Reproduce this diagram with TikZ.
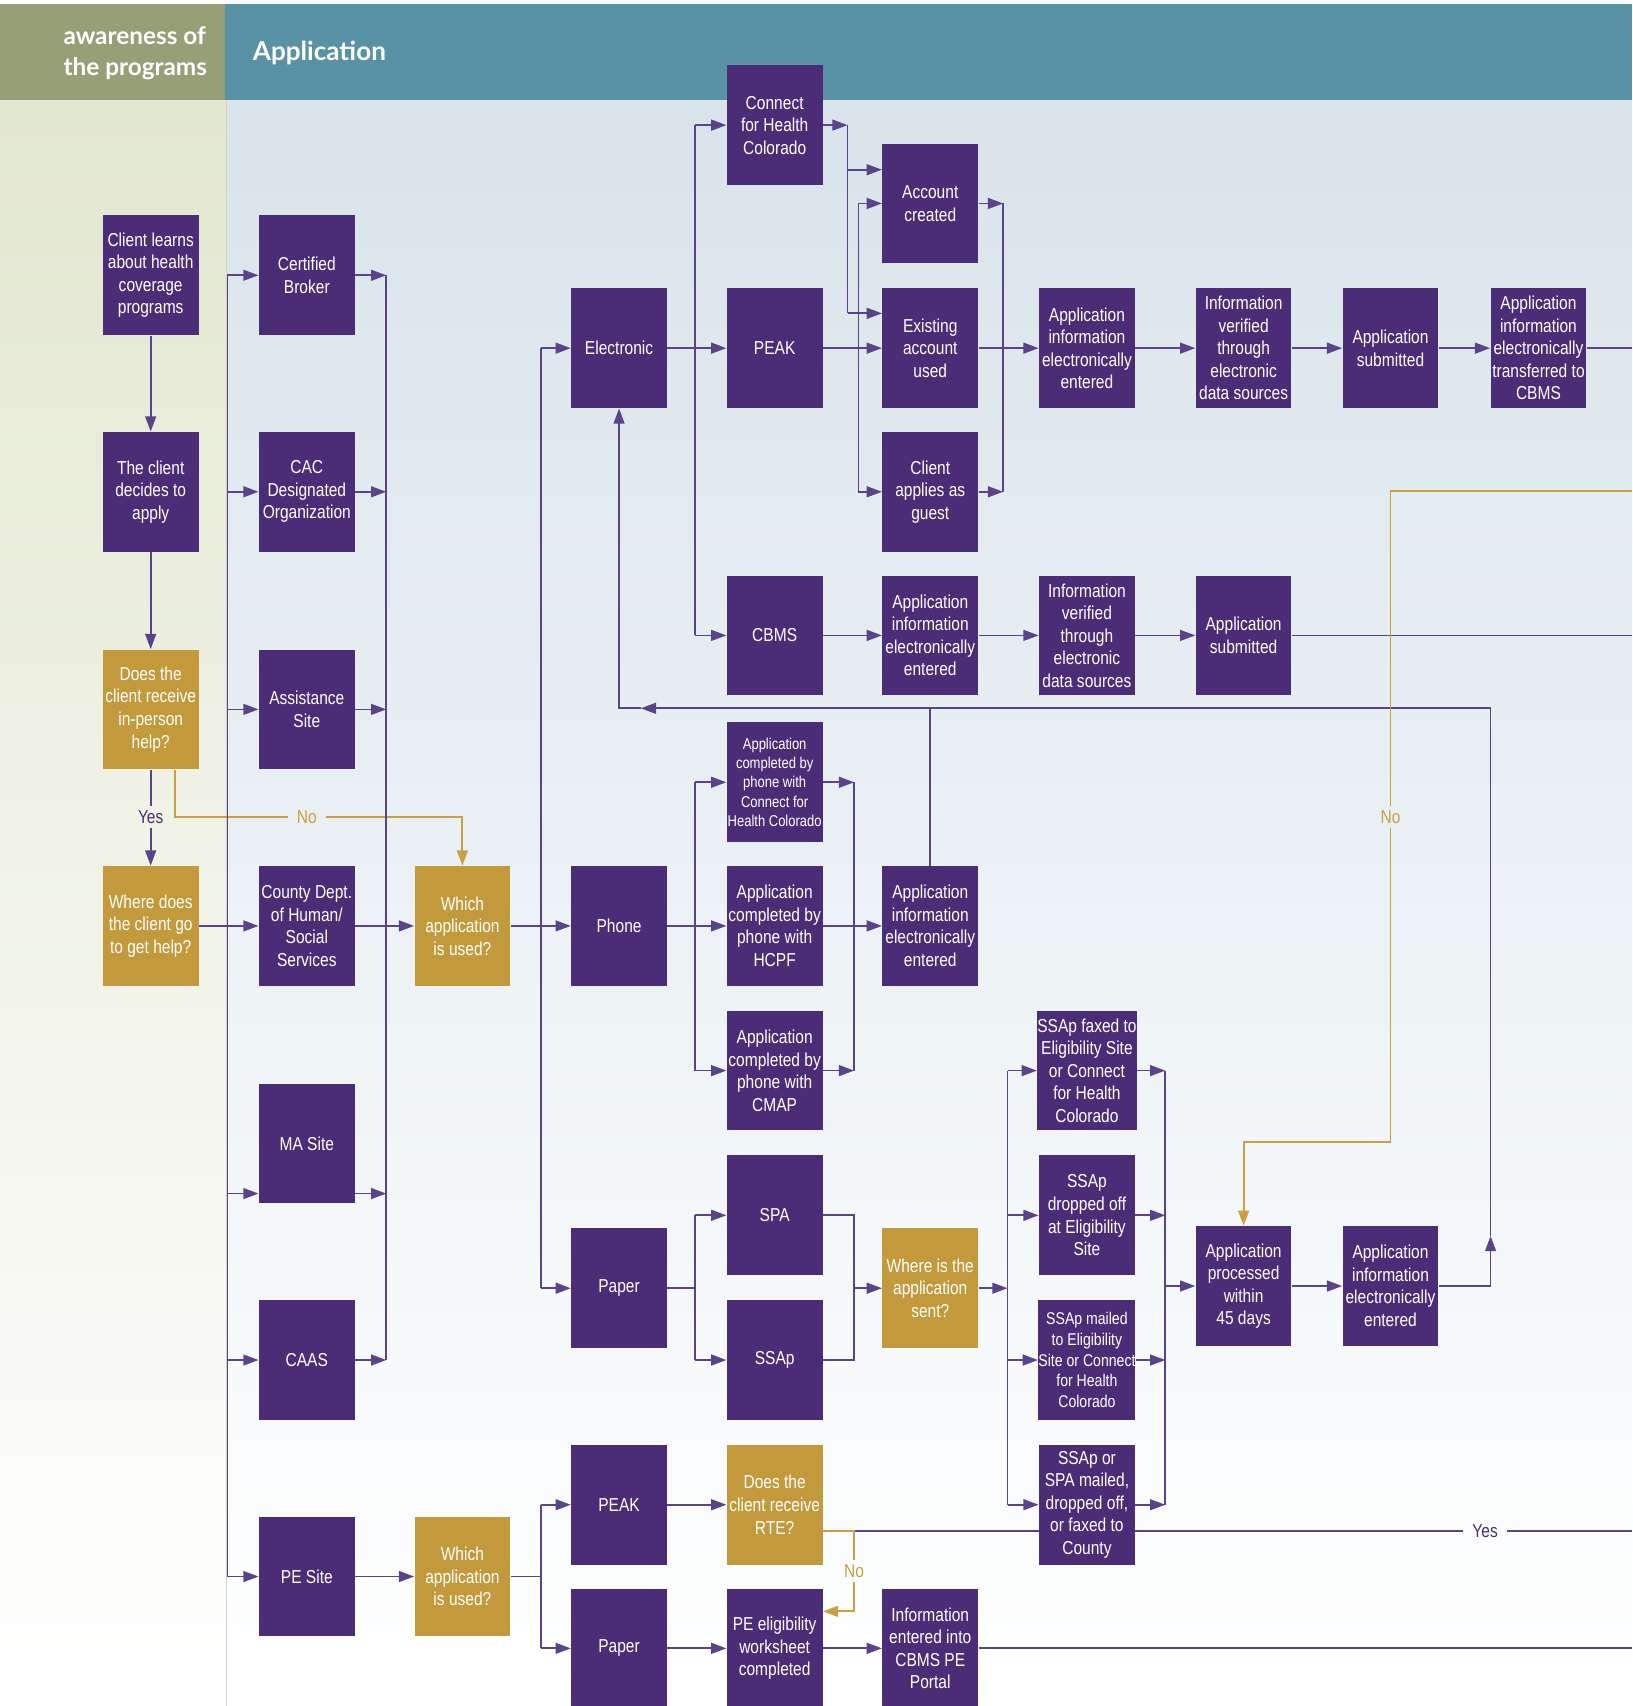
\documentclass[tikz,border=0pt]{standalone}
\usepackage{fontspec}
\setmainfont{Liberation Sans}[FakeStretch=0.83]
\newfontfamily\hdrfont{Lato}
\usetikzlibrary{arrows.meta}

\definecolor{boxpurple}{HTML}{4B2D77}
\definecolor{boxgold}{HTML}{C39A3B}
\definecolor{linepurple}{HTML}{5A438A}
\definecolor{linegold}{HTML}{C9A043}
\definecolor{hdrgreen}{HTML}{979F77}
\definecolor{hdrteal}{HTML}{5892A4}
\definecolor{bgleft}{HTML}{E2E7D0}
\definecolor{bgleftmid}{HTML}{EEF1E4}
\definecolor{bgright}{HTML}{D8E4EA}
\definecolor{bgrightmid}{HTML}{EAF0F3}

\newcommand{\boxfont}{\fontsize{8.6pt}{10.35pt}\selectfont}
\newcommand{\midfont}{\fontsize{7.8pt}{9.6pt}\selectfont}
\newcommand{\tinyfont}{\fontsize{7.2pt}{8.8pt}\selectfont}

\pgfdeclarelayer{bg}
\pgfdeclarelayer{wires}
\pgfsetlayers{bg,wires,main}

\begin{document}
\begin{tikzpicture}[x=0.5pt,y=-0.5pt,
  box/.style={fill=boxpurple,text=white,minimum width=44pt,minimum height=55pt,
    inner sep=0pt,align=center,font=\boxfont},
  goldbox/.style={box,fill=boxgold},
  flow/.style={draw=linepurple,line width=0.8pt},
  arr/.style={flow,-{Triangle[length=7pt,width=5pt]}},
  gflow/.style={draw=linegold,line width=0.9pt},
  garr/.style={gflow,-{Triangle[length=7pt,width=5pt]}},
  lbl/.style={font=\boxfont,inner xsep=4pt,inner ysep=2pt},
  hdr/.style={text=white,inner sep=0pt,align=left,anchor=west}]
\useasboundingbox (0,0) rectangle (1500,1568);

\begin{pgfonlayer}{bg}
\fill[white] (0,0) rectangle (1500,1568);
\shade[top color=bgleft,middle color=bgleftmid,bottom color=white] (0,92) rectangle (208,1568);
\shade[top color=bgright,middle color=bgrightmid,bottom color=white] (208,92) rectangle (1500,1568);
\draw[white!55!hdrgreen,line width=0.5pt] (208,92) -- (208,1568);
\fill[hdrgreen] (0,4) rectangle (207,92);
\fill[hdrteal] (207,4) rectangle (1500,92);
\end{pgfonlayer}
\node[hdr,font=\hdrfont\bfseries\fontsize{11.2pt}{14pt}\selectfont] (aware) at (58,49) {awareness of\\the programs};
\node[hdr,font=\hdrfont\bfseries\fontsize{12pt}{14pt}\selectfont] (apptitle) at (232,49) {Application};

% awareness column
\node[box] (learn) at (138.5,253) {Client learns\\about health\\coverage\\programs};
\node[box] (decide) at (138.5,452) {The client\\decides to\\apply};
\node[goldbox] (inperson) at (138.5,652) {Does the\\client receive\\in-person\\help?};
\node[goldbox] (where) at (138.5,851) {Where does\\the client go\\to get help?};

% sites
\node[box] (broker) at (282,253) {Certified\\Broker};
\node[box] (cac) at (282,452) {CAC\\Designated\\Organization};
\node[box] (assist) at (282,652) {Assistance\\Site};
\node[box] (county) at (282,851) {County Dept.\\of Human/\\Social\\Services};
\node[box] (masite) at (282,1051) {MA Site};
\node[box] (caas) at (282,1250) {CAAS};
\node[box] (pesite) at (282,1449) {PE Site};
\node[goldbox] (which) at (425,851) {Which\\application\\is used?};
\node[goldbox] (whichpe) at (425,1449) {Which\\application\\is used?};

% channels
\node[box] (elec) at (569,320) {Electronic};
\node[box] (phone) at (569,851) {Phone};
\node[box] (paper) at (569,1184) {Paper};
\node[box] (pepeak) at (569,1383) {PEAK};
\node[box] (pepaper) at (569,1515) {Paper};

\node[box] (cfhc) at (712,115) {Connect\\for Health\\Colorado};
\node[box] (peak) at (712,320) {PEAK};
\node[box] (cbms) at (712,584) {CBMS};
\node[box,font=\tinyfont] (phcfhc) at (712,719) {Application\\completed by\\phone with\\Connect for\\Health Colorado};
\node[box] (phhcpf) at (712,851) {Application\\completed by\\phone with\\HCPF};
\node[box] (phcmap) at (712,984) {Application\\completed by\\phone with\\CMAP};
\node[box] (spa) at (712,1117) {SPA};
\node[box] (ssap) at (712,1250) {SSAp};
\node[goldbox] (rte) at (712,1383) {Does the\\client receive\\RTE?};
\node[box] (peelig) at (712,1515) {PE eligibility\\worksheet\\completed};

\node[box] (acct) at (855,187) {Account\\created};
\node[box] (exist) at (855,320) {Existing\\account\\used};
\node[box] (guest) at (855,452) {Client\\applies as\\guest};
\node[box] (cbmsentry) at (855,584) {Application\\information\\electronically\\entered};
\node[box] (phentry) at (855,851) {Application\\information\\electronically\\entered};
\node[goldbox] (sent) at (855,1184) {Where is the\\application\\sent?};
\node[box] (peportal) at (855,1515) {Information\\entered into\\CBMS PE\\Portal};

\node[box] (elentry) at (999,320) {Application\\information\\electronically\\entered};
\node[box] (cbmsverify) at (999,584) {Information\\verified\\through\\electronic\\data sources};
\node[box] (faxed) at (999,984) {SSAp faxed to\\Eligibility Site\\or Connect\\for Health\\Colorado};
\node[box] (dropped) at (999,1117) {SSAp\\dropped off\\at Eligibility\\Site};
\node[box,font=\midfont] (mailed) at (999,1250) {SSAp mailed\\to Eligibility\\Site or Connect\\for Health\\Colorado};
\node[box] (county2) at (999,1383) {SSAp or\\SPA mailed,\\dropped off,\\or faxed to\\County};

\node[box] (elverify) at (1143,320) {Information\\verified\\through\\electronic\\data sources};
\node[box] (cbmssubmit) at (1143,584) {Application\\submitted};
\node[box] (processed) at (1143,1182) {Application\\processed\\within\\45 days};
\node[box] (elsubmit) at (1278,320) {Application\\submitted};
\node[box] (paperentry) at (1278,1182) {Application\\information\\electronically\\entered};
\node[box] (transfer) at (1414,320) {Application\\information\\electronically\\transferred to\\CBMS};

% labels on connectors
\node[lbl,text=boxpurple] (yes1) at (138.5,751) {Yes};
\node[lbl,text=linegold] (no1) at (282,751) {No};
\node[lbl,text=linegold] (no2) at (1278,751) {No};
\node[lbl,text=linegold] (no3) at (785,1444) {No};
\node[lbl,text=boxpurple] (yes2) at (1365,1407) {Yes};

% bus lines and bends
\coordinate (busA) at (209,0);
\coordinate (busB) at (355,0);
\coordinate (busC) at (497,0);
\coordinate (busD) at (639,0);
\coordinate (busE) at (779,0);
\coordinate (busF) at (789,0);
\coordinate (busH) at (785,0);
\coordinate (busG) at (922,0);
\coordinate (busI) at (926,0);
\coordinate (busJ) at (1071,0);
\coordinate (edgeR) at (1500,0);
\coordinate (loopY) at (0,651);
\coordinate (loopTip) at (589,651);
\coordinate (upTip) at (1370,1136);
\coordinate (goldTop) at (1500,451);
\coordinate (goldKnee) at (1278,1050);
\coordinate (goldStart) at ([xshift=11.25pt]inperson.south);
\coordinate (maIn) at ([yshift=-23pt]masite.west);
\coordinate (maOut) at ([yshift=-23pt]masite.east);
\coordinate (acctIn) at ([yshift=15.5pt]acct.west);
\coordinate (existIn) at ([yshift=16pt]exist.west);
\coordinate (rteOut) at ([yshift=-12pt]rte.east);
\coordinate (peeligIn) at ([yshift=17pt]peelig.east);

\begin{pgfonlayer}{wires}
% awareness
\draw[arr] (learn) -- (decide);
\draw[arr] (decide) -- (inperson);
\draw[flow] (inperson) -- (yes1);
\draw[arr] (yes1) -- (where);
\draw[gflow] (goldStart) |- (no1);
\draw[garr] (no1) -| (which);
% sites
\draw[arr] (where) -- (county);
\draw[flow] (broker -| busA) -- (pesite -| busA);
\foreach \n in {broker,cac,assist,caas,pesite}
  \draw[arr] (\n -| busA) -- (\n);
\draw[arr] (maIn -| busA) -- (maIn);
\draw[flow] (broker -| busB) -- (caas -| busB);
\foreach \n in {broker,cac,assist,caas}
  \draw[arr] (\n.east) -- (\n.east -| busB);
\draw[arr] (maOut) -- (maOut -| busB);
\draw[arr] (county) -- (which);
\draw[arr] (which) -- (phone);
\draw[flow] (elec -| busC) -- (paper -| busC);
\draw[arr] (elec -| busC) -- (elec);
\draw[arr] (paper -| busC) -- (paper);
% electronic
\draw[arr] (elec) -- (peak);
\draw[flow] (cfhc -| busD) -- (cbms -| busD);
\draw[arr] (cfhc -| busD) -- (cfhc);
\draw[arr] (cbms -| busD) -- (cbms);
\draw[arr] (cfhc.east) -- (cfhc.east -| busE);
\draw[flow] (cfhc -| busE) -- (existIn -| busE);
\draw[arr] (acctIn -| busE) -- (acctIn);
\draw[arr] (existIn -| busE) -- (existIn);
\draw[arr] (peak) -- (exist);
\draw[flow] (acct -| busF) -- (guest -| busF);
\draw[arr] (acct -| busF) -- (acct);
\draw[arr] (guest -| busF) -- (guest);
\draw[flow] (acct -| busG) -- (guest -| busG);
\draw[arr] (acct.east) -- (acct.east -| busG);
\draw[arr] (guest.east) -- (guest.east -| busG);
\draw[arr] (exist) -- (elentry);
\draw[arr] (elentry) -- (elverify);
\draw[arr] (elverify) -- (elsubmit);
\draw[arr] (elsubmit) -- (transfer);
\draw[flow] (transfer) -- (transfer -| edgeR);
\draw[arr] (cbms) -- (cbmsentry);
\draw[arr] (cbmsentry) -- (cbmsverify);
\draw[arr] (cbmsverify) -- (cbmssubmit);
\draw[flow] (cbmssubmit) -- (cbmssubmit -| edgeR);
% back to electronic
\draw[arr] (paperentry) -| (upTip);
\draw[arr] (upTip) |- (loopTip);
\draw[arr] (loopTip) -| (elec);
\draw[flow] (phentry) -- (phentry |- loopY);
% phone
\draw[arr] (phone) -- (phhcpf);
\draw[flow] (phcfhc -| busD) -- (phcmap -| busD);
\draw[arr] (phcfhc -| busD) -- (phcfhc);
\draw[arr] (phcmap -| busD) -- (phcmap);
\draw[flow] (phcfhc -| busH) -- (phcmap -| busH);
\draw[arr] (phcfhc.east) -- (phcfhc.east -| busH);
\draw[arr] (phcmap.east) -- (phcmap.east -| busH);
\draw[arr] (phhcpf) -- (phentry);
% paper
\draw[flow] (paper) -- (paper -| busD);
\draw[flow] (spa -| busD) -- (ssap -| busD);
\draw[arr] (spa -| busD) -- (spa);
\draw[arr] (ssap -| busD) -- (ssap);
\draw[flow] (spa) -| (busH |- sent) |- (ssap);
\draw[arr] (sent -| busH) -- (sent);
\draw[arr] (sent) -- (sent -| busI);
\draw[flow] (faxed -| busI) -- (county2 -| busI);
\foreach \n in {faxed,dropped,mailed,county2}
  \draw[arr] (\n -| busI) -- (\n);
\foreach \n in {faxed,dropped,mailed,county2}
  \draw[arr] (\n) -- (\n -| busJ);
\draw[flow] (faxed -| busJ) -- (county2 -| busJ);
\draw[arr] (processed -| busJ) -- (processed);
\draw[arr] (processed) -- (paperentry);
\draw[gflow] (goldTop) -| (no2);
\draw[garr] (no2) -- (goldKnee) -| (processed);
% PE site
\draw[arr] (pesite) -- (whichpe);
\draw[flow] (whichpe) -- (whichpe -| busC);
\draw[flow] (pepeak -| busC) -- (pepaper -| busC);
\draw[arr] (pepeak -| busC) -- (pepeak);
\draw[arr] (pepaper -| busC) -- (pepaper);
\draw[arr] (pepeak) -- (rte);
\draw[arr] (pepaper) -- (peelig);
\draw[arr] (peelig) -- (peportal);
\draw[flow] (peportal) -- (peportal -| edgeR);
\draw[flow] (rteOut) -- (yes2);
\draw[flow] (yes2) -- (yes2 -| edgeR);
\draw[gflow] (rteOut) -| (no3);
\draw[garr] (no3) |- (peeligIn);
\end{pgfonlayer}
\end{tikzpicture}
\end{document}
